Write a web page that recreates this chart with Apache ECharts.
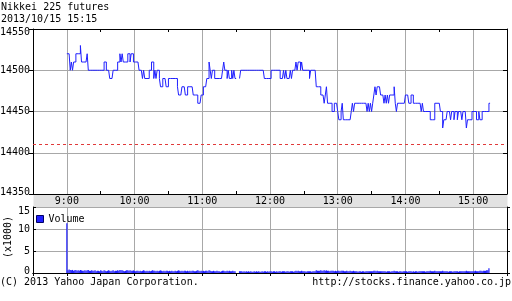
<!DOCTYPE html>
<html>
<head>
<meta charset="utf-8">
<script src="https://cdn.jsdelivr.net/npm/echarts@6/dist/echarts.min.js"></script>
<style>html,body{margin:0;padding:0;background:#fff}#c{width:512px;height:301px}</style>
</head>
<body>
<div id="c"></div>
<script>
// ---- data ----
const titleText = 'Nikkei 225 futures';
const stampText = '2013/10/15 15:15';
const axisStartMinute = 510;   // 8:30
const axisEndMinute = 930;     // 15:30
const openMinute = 540;        // 9:00, first value below
const hourLabels = ['9:00', '10:00', '11:00', '12:00', '13:00', '14:00', '15:00'];
const prevClose = 14410;

// one price per minute from 9:00 (null = no trade)
const price = [
  14520,14520,14520,14500,14510,14500,14510,14510,14520,14520,
  14520,14520,14530,14510,14510,14510,14510,14510,14520,14500,
  14500,14500,14500,14500,14500,14500,14500,14500,14500,14500,
  14500,14500,14500,14510,14510,14500,14500,14500,14490,14490,
  14490,14500,14500,14500,14500,14510,14510,14520,14510,14520,
  14510,14510,14510,14510,14520,14520,14510,14520,14520,14510,
  14510,14510,14510,14510,14500,14500,14500,14490,14500,14490,
  14490,14490,14490,14500,14500,14510,14510,14490,14500,14490,
  14500,14500,14490,14480,14480,14490,14490,14490,14480,14480,
  14490,14490,14490,14490,14490,14490,14490,14490,14480,14470,
  14470,14470,14480,14480,14480,14470,14470,14480,14480,14480,
  14480,14480,14470,14470,14470,14470,14460,14460,14460,14470,
  14470,14480,14480,14480,14490,14490,14510,14500,14490,14500,
  14500,14490,14490,14490,14490,14490,14490,14490,14500,14510,
  14500,14500,14490,14500,14490,14490,14500,14490,14500,14490,
  null,null,null,14490,14500,14500,14500,14500,14500,14500,
  14500,14500,14500,14500,14500,14500,14500,14500,14500,14500,
  14500,14500,14500,14500,14500,14490,14490,14490,14490,14490,
  14490,14500,14500,14500,14500,14500,14500,14500,14500,14490,
  14490,14490,14500,14490,14500,14490,14490,14490,14500,14490,
  14500,14500,14500,14510,14500,14510,14510,14500,14510,14500,
  14500,14500,14500,14500,14500,14490,14500,14500,14500,14500,
  14500,14480,14480,14480,14480,14470,14470,14470,14460,14470,
  14480,14460,14460,14460,14460,14450,14450,14460,14460,14460,
  14450,14440,14440,14450,14460,14440,14440,14440,14440,14440,
  14440,14440,14450,14460,14450,14460,14460,14460,14460,14460,
  14460,14460,14460,14460,14460,14460,14450,14460,14450,14460,
  14450,14460,14470,14480,14470,14480,14480,14480,14470,14470,
  14470,14460,14470,14460,14470,14460,14470,14470,14470,14470,
  14480,14460,14450,14460,14460,14460,14460,14460,14460,14460,
  14470,14470,14470,14460,14460,14470,14470,14460,14460,14460,
  14460,14460,14460,14460,14450,14460,14450,14450,14450,14450,
  14450,14450,14440,14440,14440,14440,14460,14460,14460,14460,
  14460,14450,14450,14430,14440,14440,14440,14450,14450,14450,
  14440,14450,14450,14440,14450,14450,14440,14450,14450,14450,
  14440,14450,14450,14450,14430,14440,14440,14440,14440,14450,
  14450,14450,14450,14440,14440,14450,14440,14440,14450,14450,
  14450,14450,14450,14450,14460
];

// volume per minute from 9:00, in thousands
const volume = [
  11.3,0.6,0.8,0.7,0.6,0.7,0.5,0.6,0.7,0.5,
  0.6,0.5,0.7,0.6,0.5,0.5,0.6,0.5,0.6,0.7,
  0.5,0.5,0.6,0.5,0.5,0.6,0.4,0.5,0.5,0.4,
  0.6,0.5,0.4,0.6,0.5,0.4,0.5,0.6,0.5,0.4,
  0.5,0.6,0.4,0.5,0.5,0.6,0.5,0.7,0.6,0.6,
  0.5,0.4,0.5,0.6,0.6,0.5,0.6,0.5,0.5,0.6,
  0.5,0.4,0.5,0.5,0.4,0.5,0.4,0.5,0.6,0.5,
  0.4,0.5,0.4,0.5,0.4,0.5,0.6,0.5,0.5,0.4,
  0.5,0.4,0.5,0.6,0.5,0.4,0.5,0.4,0.5,0.5,
  0.4,0.5,0.4,0.5,0.4,0.4,0.5,0.4,0.5,0.6,
  0.5,0.4,0.5,0.4,0.5,0.5,0.4,0.5,0.4,0.5,
  0.4,0.5,0.5,0.4,0.4,0.5,0.6,0.5,0.4,0.5,
  0.4,0.5,0.4,0.5,0.5,0.4,0.6,0.5,0.4,0.4,
  0.5,0.4,0.4,0.5,0.4,0.4,0.3,0.4,0.5,0.5,
  0.4,0.4,0.5,0.4,0.5,0.4,0.4,0.5,0.4,0.4,
  0,0,0,0.4,0.4,0.4,0.3,0.4,0.3,0.4,
  0.3,0.4,0.3,0.4,0.3,0.3,0.4,0.3,0.4,0.3,
  0.4,0.3,0.3,0.4,0.3,0.4,0.4,0.3,0.4,0.3,
  0.4,0.4,0.3,0.4,0.4,0.3,0.4,0.3,0.4,0.4,
  0.3,0.4,0.4,0.4,0.3,0.4,0.4,0.3,0.4,0.4,
  0.4,0.3,0.4,0.5,0.4,0.5,0.4,0.4,0.5,0.4,
  0.4,0.4,0.3,0.4,0.4,0.4,0.4,0.3,0.4,0.4,
  0.4,0.6,0.5,0.5,0.5,0.6,0.5,0.5,0.6,0.5,
  0.6,0.5,0.5,0.4,0.5,0.5,0.5,0.4,0.5,0.4,
  0.5,0.5,0.4,0.5,0.5,0.5,0.4,0.4,0.5,0.4,
  0.4,0.5,0.4,0.4,0.5,0.4,0.4,0.4,0.3,0.4,
  0.4,0.3,0.4,0.4,0.3,0.4,0.4,0.4,0.4,0.4,
  0.4,0.4,0.5,0.5,0.4,0.5,0.4,0.4,0.4,0.4,
  0.4,0.4,0.4,0.3,0.4,0.4,0.4,0.3,0.4,0.4,
  0.5,0.4,0.4,0.4,0.3,0.4,0.4,0.3,0.4,0.4,
  0.4,0.4,0.3,0.4,0.4,0.4,0.3,0.4,0.3,0.4,
  0.4,0.3,0.4,0.4,0.4,0.4,0.4,0.4,0.3,0.4,
  0.4,0.4,0.5,0.4,0.4,0.4,0.5,0.4,0.4,0.4,
  0.4,0.4,0.4,0.5,0.4,0.4,0.4,0.4,0.3,0.4,
  0.4,0.4,0.3,0.4,0.4,0.4,0.4,0.3,0.4,0.4,
  0.4,0.4,0.4,0.4,0.5,0.4,0.4,0.4,0.4,0.4,
  0.4,0.4,0.5,0.4,0.4,0.4,0.5,0.5,0.4,0.5,
  0.5,0.5,0.6,0.6,1.1
];

const priceTicks = { min: 14350, max: 14550, step: 50 };
const volumeTicks = { min: 0, max: 15, step: 5 };

// ---- build ----
function fmt(m) { return Math.floor(m / 60) + ':' + String(m % 60).padStart(2, '0'); }
const categories = [];
for (let m = axisStartMinute; m <= axisEndMinute; m++) categories.push(fmt(m));
const offset = openMinute - axisStartMinute;
function place(arr) {
  return categories.map((c, i) => {
    const k = i - offset;
    if (k < 0 || k >= arr.length || arr[k] === null) return '-';
    return arr[k];
  });
}

const FONT = 'DejaVu Sans Mono';
const BLUE = '#2020ff';
const GRIDC = '#a8a8a8';
const txt = { fontFamily: FONT, fontSize: 10, color: '#000' };
const isHour = (i, v) => hourLabels.indexOf(v) >= 0;
const isHalf = (i) => i % 60 === 0;
const isEvery30 = (i) => i % 30 === 0;

const chart = echarts.init(document.getElementById('c'), null, { renderer: 'canvas' });
chart.setOption({
  animation: false,
  backgroundColor: '#fff',
  title: [
    { text: titleText + '\n' + stampText, left: 0, top: 0, padding: [1, 0, 0, 1],
      textStyle: Object.assign({ fontWeight: 'normal', lineHeight: 12 }, txt) },
    { text: '(C) 2013 Yahoo Japan Corporation.', left: 0, top: 276, padding: 0,
      textStyle: Object.assign({ fontWeight: 'normal', lineHeight: 12 }, txt) },
    { text: 'http://stocks.finance.yahoo.co.jp', right: 1, top: 276, padding: 0,
      textStyle: Object.assign({ fontWeight: 'normal', lineHeight: 12 }, txt) }
  ],
  legend: {
    data: ['Volume'], left: 36, top: 214, padding: 0,
    itemWidth: 7, itemHeight: 7, icon: 'rect',
    itemStyle: { borderColor: '#000066', borderWidth: 1 },
    textStyle: txt
  },
  graphic: [
    { type: 'rect', z: -1, shape: { x: 33.5, y: 194.5, width: 474, height: 13 },
      style: { fill: '#e2e2e2' } }
  ],
  grid: [
    { left: 33, right: 5, top: 29, height: 165, outerBoundsMode: 'none', containLabel: false },
    { left: 33, right: 5, top: 207, height: 66, outerBoundsMode: 'none', containLabel: false }
  ],
  xAxis: [
    { gridIndex: 0, type: 'category', data: categories, boundaryGap: false, position: 'bottom',
      axisLine: { lineStyle: { color: '#000', width: 1 } },
      axisTick: { inside: true, length: 3, interval: isHalf, lineStyle: { color: '#000' } },
      axisLabel: Object.assign({ interval: isHour, margin: 2 }, txt),
      splitLine: { show: true, interval: isHour, lineStyle: { color: GRIDC, width: 1 } } },
    { gridIndex: 0, type: 'category', data: categories, boundaryGap: false, position: 'top',
      axisLine: { lineStyle: { color: '#000', width: 1 } },
      axisTick: { inside: true, length: 3, interval: isHalf, lineStyle: { color: '#000' } },
      axisLabel: { show: false }, splitLine: { show: false } },
    { gridIndex: 1, type: 'category', data: categories, boundaryGap: false, position: 'bottom',
      axisLine: { lineStyle: { color: '#000', width: 1 } },
      axisTick: { show: false }, axisLabel: { show: false },
      splitLine: { show: true, interval: isHour, lineStyle: { color: GRIDC, width: 1 } } },
    { gridIndex: 1, type: 'category', data: categories, boundaryGap: false, position: 'top',
      axisLine: { lineStyle: { color: '#000', width: 1 } },
      axisTick: { inside: true, length: 3, interval: isEvery30, lineStyle: { color: '#000' } },
      axisLabel: { show: false }, splitLine: { show: false } }
  ],
  yAxis: [
    { gridIndex: 0, type: 'value', position: 'left', min: priceTicks.min, max: priceTicks.max, interval: priceTicks.step,
      axisLine: { show: true, lineStyle: { color: '#000' } },
      axisTick: { show: true, inside: false, length: 4, lineStyle: { color: '#000' } },
      axisLabel: Object.assign({
        margin: 3,
        formatter: v => v === priceTicks.max ? '{t|' + v + '}' : (v === priceTicks.min ? '{b|' + v + '}' : String(v)),
        rich: { t: Object.assign({ padding: [7, 0, 0, 0] }, txt), b: Object.assign({ padding: [0, 0, 4, 0] }, txt) }
      }, txt),
      splitLine: { show: true, lineStyle: { color: GRIDC, width: 1 } } },
    { gridIndex: 0, type: 'value', position: 'right', min: priceTicks.min, max: priceTicks.max, interval: priceTicks.step,
      axisLine: { show: true, lineStyle: { color: '#000' } },
      axisTick: { show: true, inside: true, length: 4, lineStyle: { color: '#000' } },
      axisLabel: { show: false }, splitLine: { show: false } },
    { gridIndex: 1, type: 'value', position: 'left', min: volumeTicks.min, max: volumeTicks.max, interval: volumeTicks.step,
      name: '(x1000)', nameLocation: 'middle', nameRotate: 90, nameGap: 20, nameMoveOverlap: false,
      nameTextStyle: Object.assign({ padding: [0, 0, 0, 6] }, txt),
      axisLine: { show: true, lineStyle: { color: '#000' } },
      axisTick: { show: true, inside: true, length: 3, lineStyle: { color: '#000' } },
      axisLabel: Object.assign({
        margin: 3,
        formatter: v => v === volumeTicks.max ? '{t|' + v + '}' : (v === volumeTicks.min ? '{b|' + v + '}' : String(v)),
        rich: { t: Object.assign({ padding: [9, 0, 0, 0] }, txt), b: Object.assign({ padding: [0, 0, 4, 0] }, txt) }
      }, txt),
      splitLine: { show: true, lineStyle: { color: GRIDC, width: 1 } } },
    { gridIndex: 1, type: 'value', position: 'right', min: volumeTicks.min, max: volumeTicks.max, interval: volumeTicks.step,
      axisLine: { show: true, lineStyle: { color: '#000' } },
      axisTick: { show: true, inside: false, length: 3, lineStyle: { color: '#000' } },
      axisLabel: { show: false }, splitLine: { show: false } }
  ],
  series: [
    { name: 'Price', type: 'line', xAxisIndex: 0, yAxisIndex: 0, step: 'end',
      data: place(price), symbol: 'none', showSymbol: false, connectNulls: false,
      lineStyle: { color: BLUE, width: 1 }, itemStyle: { color: BLUE },
      markLine: { silent: true, symbol: 'none', label: { show: false },
        lineStyle: { color: '#e03a3a', type: [3, 3], width: 1 },
        data: [{ yAxis: prevClose }] } },
    { name: 'Volume', type: 'bar', xAxisIndex: 2, yAxisIndex: 2, barWidth: 1.2,
      data: place(volume), itemStyle: { color: BLUE } }
  ]
});
</script>
</body>
</html>
